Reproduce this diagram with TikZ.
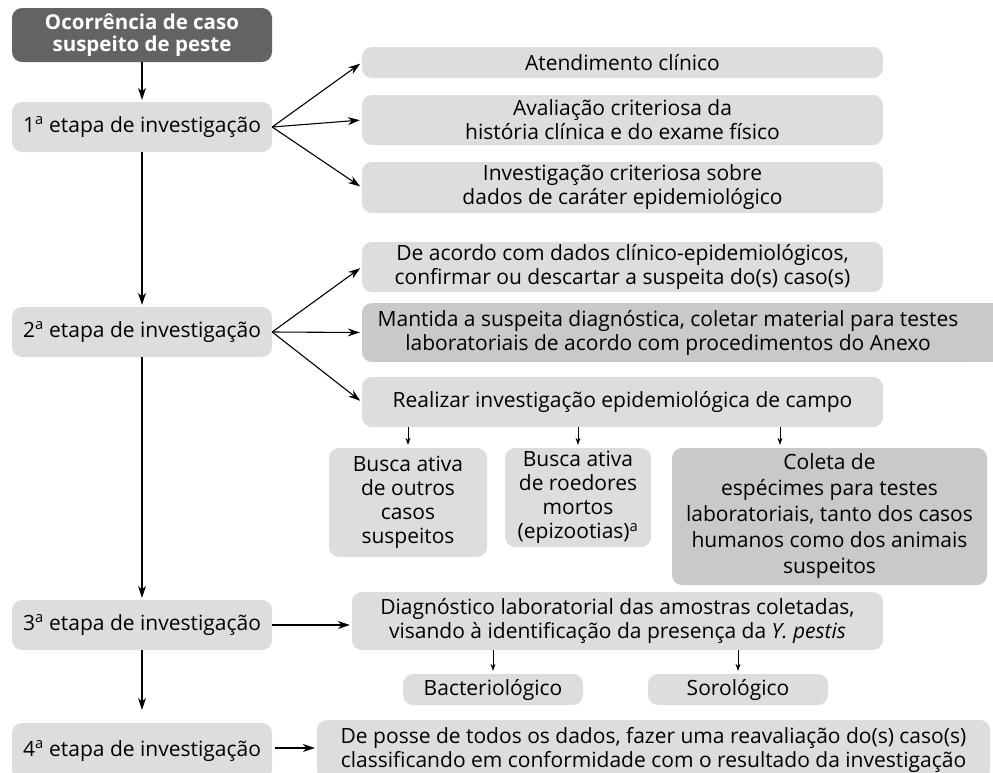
\documentclass[tikz,border=0pt]{standalone}
\usepackage{fontspec}
\setmainfont{Open Sans}
\usetikzlibrary{arrows.meta}
\definecolor{boxlight}{HTML}{DCDDDF}
\definecolor{boxmid}{HTML}{C8C9CB}
\definecolor{boxdark}{HTML}{626365}

\begin{document}
\begin{tikzpicture}[x=1pt,y=-1pt,
  box/.style={fill=boxlight,rounded corners=10pt,inner sep=0pt,align=center,
    font=\fontsize{21}{24}\selectfont},
  boxm/.style={box,fill=boxmid},
  arr/.style={-{Stealth[length=12pt,width=8pt]},line width=1.1pt,shorten >=2pt},
  sarr/.style={-{Stealth[length=7pt,width=5pt]},line width=0.7pt,shorten >=3pt}]
\useasboundingbox (0,0) rectangle (993,772);
\clip (0,0) rectangle (993,772);
% left column
\node[box,fill=boxdark,text=white,font=\fontsize{20.5}{22}\selectfont\bfseries,
  minimum width=260pt,minimum height=54pt] (caso) at (142,35)
  {Ocorrência de caso\\suspeito de peste};
\node[box,minimum width=260pt,minimum height=50pt] (e1) at (142,127) {1\textsuperscript{a} etapa de investigação};
\node[box,minimum width=260pt,minimum height=50pt] (e2) at (142,332) {2\textsuperscript{a} etapa de investigação};
\node[box,minimum width=260pt,minimum height=50pt] (e3) at (142,625) {3\textsuperscript{a} etapa de investigação};
\node[box,minimum width=260pt,minimum height=56pt] (e4) at (142,751) {4\textsuperscript{a} etapa de investigação};
% 1a etapa
\node[box,minimum width=521pt,minimum height=31pt] (atend) at (622.5,62.5) {Atendimento clínico};
\node[box,minimum width=521pt,minimum height=50pt] (aval) at (622.5,120) {Avaliação criteriosa da\\história clínica e do exame físico};
\node[box,minimum width=521pt,minimum height=51pt] (invcrit) at (622.5,187.5) {Investigação criteriosa sobre\\dados de caráter epidemiológico};
% 2a etapa
\node[box,minimum width=521pt,minimum height=50pt] (acordo) at (622.5,267) {De acordo com dados clínico-epidemiológicos,\\confirmar ou descartar a suspeita do(s) caso(s)};
\fill[boxmid] (900,303) rectangle (1000,362);
\node[boxm,minimum width=612pt,minimum height=59pt] (mantida) at (668,332.5) {Mantida a suspeita diagnóstica, coletar material para testes\\laboratoriais de acordo com procedimentos do Anexo};
\node[box,minimum width=521pt,minimum height=50pt] (realizar) at (622.5,402) {Realizar investigação epidemiológica de campo};
\node[box,minimum width=158pt,minimum height=109pt] (busca1) at (408,502.5) {Busca ativa\\de outros\\casos\\suspeitos};
\node[box,minimum width=146pt,minimum height=99pt] (busca2) at (578,497.5) {Busca ativa\\de roedores\\mortos\\(epizootias)\textsuperscript{a}};
\node[boxm,minimum width=315pt,minimum height=137pt,font=\fontsize{21}{26}\selectfont] (coleta) at (829.5,516.5) {Coleta de\\espécimes para testes\\laboratoriais, tanto dos casos\\humanos como dos animais\\suspeitos};
\coordinate (colarr) at (780,448);
% 3a e 4a etapas
\node[box,minimum width=531pt,minimum height=58pt] (diag) at (617.5,621) {Diagnóstico laboratorial das amostras coletadas,\\visando à identificação da presença da \textit{Y. pestis}};
\node[box,minimum width=180pt,minimum height=31pt] (bact) at (493,689.5) {Bacteriológico};
\node[box,minimum width=180pt,minimum height=31pt] (soro) at (738,689.5) {Sorológico};
\node[box,minimum width=673pt,minimum height=60pt] (posse) at (653.5,750) {De posse de todos os dados, fazer uma reavaliação do(s) caso(s)\\classificando em conformidade com o resultado da investigação};
% arrows
\draw[arr] (caso) -- (e1);
\draw[arr] (e1) -- (e2);
\draw[arr] (e2) -- (e3);
\draw[arr,shorten >=13pt] (e3) -- (e4);
\foreach \t in {atend,aval,invcrit}
  \draw[arr] (e1.east) -- (\t.west);
\foreach \t in {acordo,mantida,realizar}
  \draw[arr] (e2.east) -- (\t.west);
\draw[arr] (e3.east) -- (e3.east -| diag.west);
\draw[arr] (e4.east) ++(3,-3) -- (e4.east |- 0,748 -| posse.west);
\foreach \t in {busca1,busca2,colarr}
  \draw[sarr] (realizar.south -| \t) -- (\t |- busca1.north);
\foreach \t in {bact,soro}
  \draw[sarr] (diag.south -| \t) -- (\t.north);
\end{tikzpicture}
\end{document}
